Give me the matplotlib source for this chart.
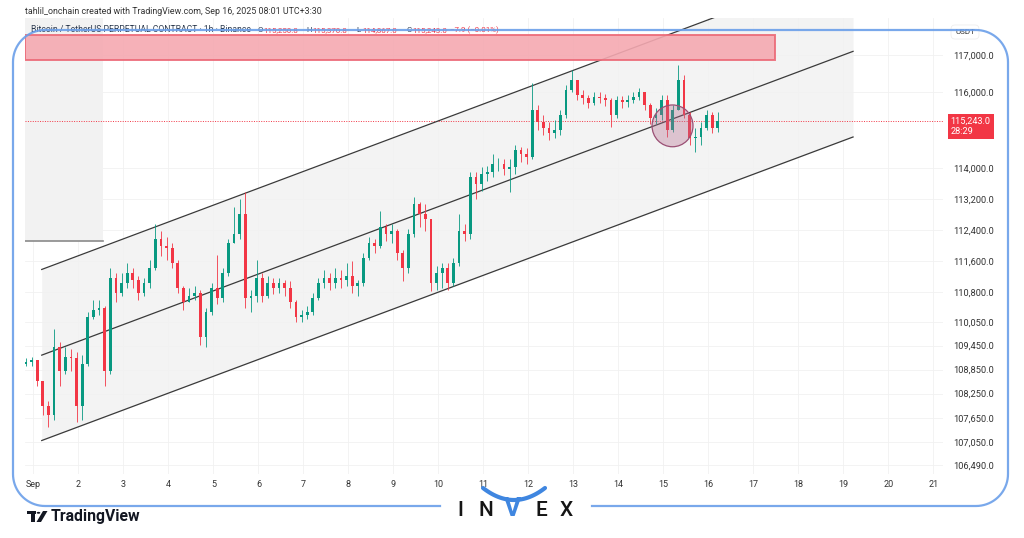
import matplotlib

matplotlib.use("Agg")
import matplotlib.dates as mdates
import matplotlib.pyplot as plt
import numpy as np
import pandas as pd
from matplotlib.lines import Line2D
from matplotlib.patches import Circle, Ellipse, Polygon, Rectangle
from matplotlib.ticker import FixedLocator, FuncFormatter, NullLocator

W, H = 1024, 538

# 3-hour candles (times in UTC+3:30)
START = "2025-08-31 20:00"
FIRST_OPEN = 109000
CLOSE = [109050, 109100, 108560, 107950, 107710, 109420, 108810, 109170, 109130, 107950,
         108980, 110160, 110360, 110410, 108810, 111160, 110790, 111040, 111290, 111110,
         110790, 111040, 111410, 112170, 111970, 111920, 111540, 110910, 110540, 110710,
         110790, 109670, 110290, 110910, 110660, 111290, 112050, 112300, 112810, 110660,
         110700, 111160, 110710, 111040, 110910, 111040, 110910, 110540, 110160, 110210,
         110290, 110660, 111040, 111160, 111040, 111160, 111110, 111210, 110960, 111040,
         111670, 112050, 111970, 112480, 112300, 112380, 111790, 111410, 112300, 113070,
         112810, 112680, 111040, 111290, 111410, 111040, 111540, 112380, 112300, 113760,
         113580, 113840, 113890, 114100, 114100, 113970, 114020, 114490, 114360, 114300,
         115540, 115220, 115060, 114930, 115010, 115410, 116070, 116330, 115930, 115850,
         115720, 115880, 115850, 115800, 115410, 115800, 115750, 115800, 115880, 116010,
         115670, 115330, 115410, 115800, 115010, 115540, 116330, 115410, 114800, 114830,
         115060, 115410, 115060, 115243]
HIGH = [109130, 109170, 109080, 108320, 108070, 109870, 109540, 109420, 109370, 109300,
        109220, 110290, 110610, 110590, 110460, 111410, 111290, 111290, 111540, 111410,
        111210, 111160, 111610, 112550, 112380, 112220, 112050, 111610, 110960, 110910,
        110960, 110860, 110410, 111040, 111740, 111410, 112170, 112990, 113190, 113370,
        110860, 111610, 111290, 111210, 111160, 111160, 111110, 111090, 110610, 110360,
        110460, 110790, 111160, 111360, 111290, 111410, 111360, 111540, 111590, 111110,
        111790, 112220, 112170, 112890, 112550, 112550, 112430, 111870, 112430, 113250,
        113120, 113070, 112630, 111460, 111540, 111540, 111670, 112810, 112550, 113910,
        113910, 114020, 114070, 114360, 114280, 114230, 114230, 114620, 114560, 114540,
        116250, 115670, 115410, 115220, 115270, 115540, 116200, 116600, 116330, 116070,
        115930, 116010, 116010, 115960, 115850, 115910, 115910, 115930, 116010, 116120,
        116010, 115720, 115590, 115930, 115930, 115670, 116730, 116470, 115480, 115060,
        115220, 115540, 115480, 115480]
LOW = [108930, 108930, 108440, 107710, 107420, 107590, 108440, 108730, 108810, 107540,
       107590, 108930, 110110, 110210, 108440, 108730, 110540, 110710, 110910, 110910,
       110610, 110710, 110910, 111360, 111720, 111610, 111410, 110790, 110360, 110540,
       110610, 109470, 109420, 110210, 110490, 110540, 111210, 112050, 112170, 110410,
       110290, 110540, 110540, 110660, 110760, 110790, 110710, 110410, 110040, 110040,
       110110, 110210, 110610, 110910, 110860, 110910, 110910, 110960, 110790, 110710,
       110960, 111610, 111790, 111920, 112120, 112050, 111610, 111090, 111290, 112220,
       112480, 112380, 110840, 110860, 110910, 110860, 110960, 111460, 112120, 112170,
       113190, 113400, 113660, 113760, 113920, 113810, 113370, 113840, 114170, 114100,
       114230, 115010, 114880, 114750, 114800, 114880, 115330, 116010, 115800, 115700,
       115590, 115670, 115720, 115640, 115090, 115330, 115590, 115620, 115720, 115800,
       115540, 115170, 115170, 115270, 114830, 114960, 115540, 115330, 114620, 114430,
       114620, 115010, 114930, 114960]

PRICE_TICKS = [117000, 116000, 114000, 113200, 112400, 111600, 110800, 110050,
               109450, 108850, 108250, 107650, 107050, 106490]
DAY_LABELS = ["Sep"] + [str(d) for d in range(2, 22)]
LAST_PRICE = 115243.0
LAST_COUNTDOWN = "28:29"
LEGEND_OHLC = [("O", "115,250.8"), ("H", "115,370.8"), ("L", "114,867.0"), ("C", "115,243.0")]
LEGEND_CHANGE = "\u22127.9 (\u22120.01%)"

# drawings on the chart
CHANNEL_T = ["2025-09-01 04:25", "2025-09-19 05:07"]
CHANNEL_UPPER = [111380, 119430]
CHANNEL_MID = [109210, 117100]
CHANNEL_LOWER = [107090, 114820]
ZONE_END = "2025-09-17 11:30"
ZONE_PRICES = (116870, 117540)
BOX_END = "2025-09-02 13:00"
BOX_PRICE = 112100
CIRCLE_T = "2025-09-15 04:50"
CIRCLE_PRICE = 115115

X_LEFT = "2025-08-31 19:30"
X_RIGHT = "2025-09-21 05:05"
Y_RANGE = (106270, 118000)

GREEN, RED = "#089981", "#f23645"


def px(x, y):
    return x / W, 1 - y / H


def t(s):
    return mdates.date2num(pd.Timestamp(s))


fig = plt.figure(figsize=(W / 100, H / 100), dpi=100)
plt.rcParams["font.family"] = ["Roboto", "DejaVu Sans"]
ax = fig.add_axes([25 / W, 1 - 474 / H, (943 - 25) / W, (474 - 18) / H])
ax.set_yscale("log")
ax.set_xlim(t(X_LEFT), t(X_RIGHT))
ax.set_ylim(*Y_RANGE)
for s in ax.spines.values():
    s.set_visible(False)

days = [t(f"2025-09-{d:02d}") for d in range(1, 22)]
ax.set_xticks(days)
ax.set_xticklabels(DAY_LABELS)
ax.yaxis.set_major_locator(FixedLocator(PRICE_TICKS))
ax.yaxis.set_minor_locator(NullLocator())
ax.yaxis.set_major_formatter(FuncFormatter(lambda v, _: f"{v:,.1f}"))
ax.yaxis.tick_right()
ax.tick_params(axis="y", length=0, pad=7, labelsize=6.7, labelcolor="#333333")
ax.tick_params(axis="x", length=0, pad=4.5, labelsize=6.5, labelcolor="#333333")
ax.grid(True, color="#f1f1f1", lw=0.6)
ax.set_axisbelow(True)

# background drawings
ct = [t(c) for c in CHANNEL_T]
ax.fill_between(ct, CHANNEL_LOWER, CHANNEL_UPPER, color="#f3f3f3", lw=0, zorder=0.5)
ax.add_patch(Rectangle((t(X_LEFT), BOX_PRICE), t(BOX_END) - t(X_LEFT), Y_RANGE[1] - BOX_PRICE,
                       fc="#f2f2f2", ec="none", zorder=0.6))
ax.plot([t(X_LEFT), t(BOX_END)], [BOX_PRICE, BOX_PRICE], color="#8a8a8a", lw=1.2, zorder=1)

for prices in (CHANNEL_UPPER, CHANNEL_MID, CHANNEL_LOWER):
    ax.plot(ct, prices, color="#3a3a3a", lw=0.9, zorder=3)

# candles
times = mdates.date2num(pd.date_range(START, periods=len(CLOSE), freq="3h"))
close = np.array(CLOSE, float)
opn = np.concatenate([[FIRST_OPEN], close[:-1]])
high = np.maximum(np.array(HIGH, float), np.maximum(opn, close))
low = np.minimum(np.array(LOW, float), np.minimum(opn, close))
cols = np.where(close >= opn, GREEN, RED)
ax.vlines(times, low, high, colors=cols, lw=0.6, zorder=4)
body_lo = np.minimum(opn, close)
body_h = np.maximum(np.abs(close - opn), 12)
ax.bar(times, body_h, bottom=body_lo, width=0.062, color=cols, lw=0, zorder=5)

# resistance zone
ax.add_patch(Rectangle((t(X_LEFT), ZONE_PRICES[0]), t(ZONE_END) - t(X_LEFT),
                       ZONE_PRICES[1] - ZONE_PRICES[0], fc="#f5a9b1", ec="#ec6a78",
                       lw=1.4, alpha=0.9, zorder=6))

# breakdown circle
ax.add_patch(Ellipse((t(CIRCLE_T), CIRCLE_PRICE), 0.91, 1105, fc="#b46a8e", alpha=0.35,
                     ec="none", zorder=6))
ax.add_patch(Ellipse((t(CIRCLE_T), CIRCLE_PRICE), 0.91, 1105, fc="none", ec="#9a4f74",
                     lw=0.9, zorder=6))

# last price line and label
ax.axhline(LAST_PRICE, color=RED, lw=0.7, ls=(0, (1, 1.5)), zorder=2)
ax.annotate(f"{LAST_PRICE:,.1f}\n{LAST_COUNTDOWN}", xy=(1, LAST_PRICE),
            xycoords=("axes fraction", "data"), xytext=(5.5, 2.8), textcoords="offset points",
            va="top", ha="left", fontsize=6.6, color="white", linespacing=1.2,
            annotation_clip=False,
            bbox=dict(boxstyle="square,pad=0.32", fc=RED, ec="none"))

# header texts
fig.text(*px(25, 11), "tahlil_onchain created with TradingView.com, Sep 16, 2025 08:01 UTC+3:30",
         fontsize=6.4, color="#333333", va="center")
fig.text(*px(31, 30), "Bitcoin / TetherUS PERPETUAL CONTRACT \u00b7 1h \u00b7 Binance",
         fontsize=6.2, color="#2c3a4f", va="center")
for k, (lab, val) in enumerate(LEGEND_OHLC):
    x0 = 257 + 49.7 * k
    fig.text(*px(x0, 30), lab, fontsize=5.7, color="#2c3a4f", va="center")
    fig.text(*px(x0 + 6, 30), val, fontsize=5.7, color=RED, va="center")
fig.text(*px(450, 30), LEGEND_CHANGE, fontsize=5.7, color=RED, va="center")
fig.text(*px(965, 32), "USDT", fontsize=5.8, color="#333333", va="center", ha="center",
         bbox=dict(boxstyle="round,pad=0.5", fc="white", ec="#eeeeee", lw=0.6))

# INVEX frame with rounded corners and a gap for the logo
L, R, T, B, r = 13, 1008, 30, 506, 32
a = np.linspace(0, np.pi / 2, 20)
pts = [(440, B), (L + r, B)]
pts += [(L + r - r * np.sin(u), B - r + r * np.cos(u)) for u in a]
pts += [(L, T + r)]
pts += [(L + r - r * np.cos(u), T + r - r * np.sin(u)) for u in a]
pts += [(R - r, T)]
pts += [(R - r + r * np.sin(u), T + r - r * np.cos(u)) for u in a]
pts += [(R, B - r)]
pts += [(R - r + r * np.cos(u), B - r + r * np.sin(u)) for u in a]
pts += [(592, B)]
fx = [p[0] / W for p in pts]
fy = [1 - p[1] / H for p in pts]
fig.add_artist(Line2D(fx, fy, color="#6b9fe9", lw=1.6, alpha=0.9, zorder=20))

# INVEX logo
for x0, ch in ((460, "I"), (486, "N"), (541, "E"), (566, "X")):
    fig.text(*px(x0, 511), ch, fontsize=15, color="#151515", ha="center", va="center",
             fontweight="medium", zorder=21)
fig.text(*px(513, 509), "V", fontsize=19, color="#3f86e0", ha="center", va="center",
         fontweight="bold", zorder=21)
hx = np.linspace(483, 545, 30)
hy = 500 - 12 * ((hx - 514) / 31) ** 2
fig.add_artist(Line2D(hx / W, 1 - hy / H, color="#3f86e0", lw=3, solid_capstyle="round", zorder=21))

# TradingView logo
fig.add_artist(Rectangle(px(27, 514), 9 / W, 3 / H, fc="#131722", ec="none"))
fig.add_artist(Rectangle(px(31, 522), 4 / W, 8 / H, fc="#131722", ec="none"))
fig.add_artist(Circle(px(38.5, 512.8), 1.8 / W, fc="#131722", ec="none"))
fig.add_artist(Polygon([px(36.5, 522), px(43, 511), px(47.5, 511), px(41, 522)], closed=True,
                       fc="#131722", ec="none"))
fig.text(*px(51, 516), "TradingView", fontsize=11.3, color="#131722", va="center",
         fontweight="bold")

fig.savefig("out.png", dpi=100, facecolor="white")
